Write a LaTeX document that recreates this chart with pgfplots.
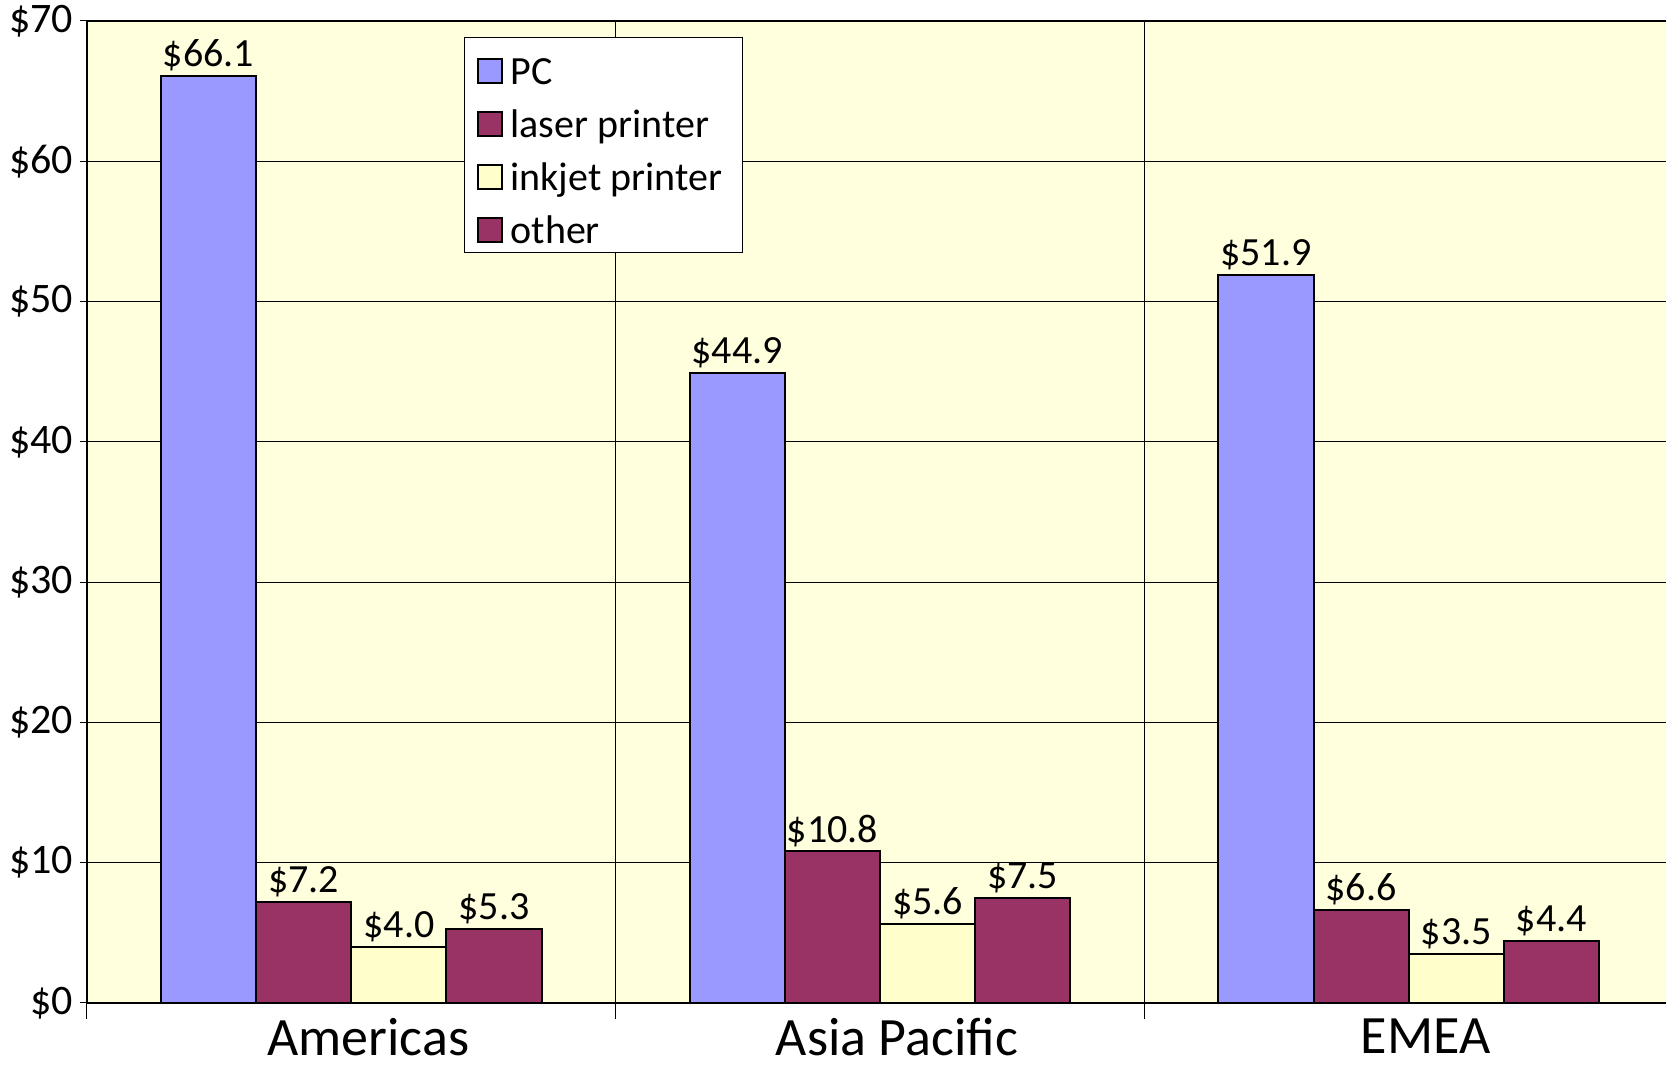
\documentclass[border=0pt]{standalone}
\usepackage{fontspec}
\setmainfont{Carlito}
\usepackage{pgfplots}
\pgfplotsset{compat=1.18}

\definecolor{pcblue}{HTML}{9999FF}
\definecolor{plum}{HTML}{993366}
\definecolor{inkjet}{HTML}{FFFFCC}
\definecolor{plotbg}{HTML}{FFFFDD}

\begin{document}
\begin{tikzpicture}
\begin{axis}[
  name=ax,
  scale only axis,
  width=793pt, height=491pt,
  xmin=-0.5, xmax=2.5,
  ymin=0, ymax=70,
  axis background/.style={fill=plotbg},
  axis line style={black, line width=0.6pt},
  /pgf/number format/assume math mode=true,
  ybar=0pt,
  bar width=0.18,
  xtick pos=bottom, ytick pos=left,
  xtick={0,1,2},
  xticklabels={Americas, Asia Pacific, EMEA},
  x tick label style={font=\fontsize{27}{30}\selectfont, xshift=8.5pt, yshift=-3pt,
    text depth=0pt, inner ysep=1pt},
  major x tick style={draw=none},
  minor xtick={-0.5,0.5,1.5},
  xminorgrids=true,
  minor x grid style={black, line width=0.5pt},
  minor tick length=8pt,
  ytick={0,10,...,70},
  yticklabel={\$\pgfmathprintnumber{\tick}},
  y tick label style={font=\fontsize{21}{24}\selectfont},
  ymajorgrids=true,
  major y grid style={black, line width=0.5pt},
  major tick length=3.5pt,
  tick align=outside,
  tick style={black, line width=0.5pt},
  nodes near coords={\$\pgfmathprintnumber[fixed,fixed zerofill,precision=1]{\pgfplotspointmeta}},
  every node near coord/.append style={font=\fontsize{20}{22}\selectfont, black, inner sep=2pt},
  legend cell align=left,
  legend style={at={(0.238,0.984)}, anchor=north west, draw=black, fill=white,
    font=\fontsize{20}{22}\selectfont, inner xsep=6pt, inner ysep=1.5pt,
    row sep=1.5pt, line width=0.5pt,
    nodes={inner xsep=4pt, inner ysep=1pt, text height=21pt, text depth=2pt}},
  legend image code/.code={\draw[#1, line width=0.8pt] (0pt,-9pt) rectangle (12pt,3pt);},
]
\addplot[fill=pcblue, draw=black, line width=1pt] coordinates {(0,66.1) (1,44.9) (2,51.9)};
\addlegendentry{PC}
\addplot[fill=plum, draw=black, line width=1pt] coordinates {(0,7.2) (1,10.8) (2,6.6)};
\addlegendentry{laser printer}
\addplot[fill=inkjet, draw=black, line width=1pt] coordinates {(0,4.0) (1,5.6) (2,3.5)};
\addlegendentry{inkjet printer}
\addplot[fill=plum, draw=black, line width=1pt] coordinates {(0,5.3) (1,7.5) (2,4.4)};
\addlegendentry{other}
\end{axis}
\pgfresetboundingbox
\path ([xshift=-43.5pt,yshift=-31pt]ax.south west) rectangle ([xshift=-3.5pt,yshift=10.5pt]ax.north east);
\end{tikzpicture}
\end{document}
